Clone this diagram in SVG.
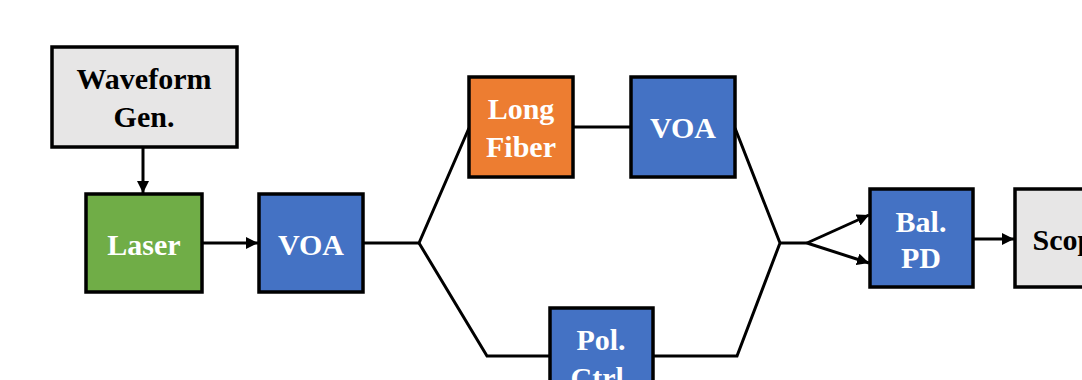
<svg xmlns="http://www.w3.org/2000/svg" width="1082" height="380" viewBox="0 0 1082 380">
<style>
.box{stroke:#000;stroke-width:3.5}
.gray{fill:#E7E6E6}
.green{fill:#70AD47}
.blue{fill:#4472C4}
.orange{fill:#ED7D31}
text{font-family:"Liberation Serif","Times New Roman",serif;font-weight:bold;font-size:30px;text-anchor:middle}
.w{fill:#fff}
.k{fill:#000}
.ln{fill:none;stroke:#000;stroke-width:3;stroke-linejoin:miter}
</style>
<defs>
<marker id="ah" viewBox="0 0 10 10" refX="10" refY="5" markerWidth="4" markerHeight="4" markerUnits="strokeWidth" orient="auto">
<path d="M0,0 L10,5 L0,10 z" fill="#000"/>
</marker>
</defs>
<rect width="1082" height="380" fill="#fff"/>
<g id="connectors">
<line class="ln" x1="143" y1="147" x2="143" y2="193" marker-end="url(#ah)"/>
<line class="ln" x1="202" y1="243" x2="258" y2="243" marker-end="url(#ah)"/>
<polyline class="ln" points="363,243 419,243 469,128"/>
<line class="ln" x1="573" y1="127" x2="631" y2="127"/>
<polyline class="ln" points="419,243 487,356 550,356"/>
<polyline class="ln" points="653,356 737,356 780,243 735,128"/>
<line class="ln" x1="780" y1="243" x2="807" y2="243"/>
<line class="ln" x1="807" y1="243" x2="869" y2="215" marker-end="url(#ah)"/>
<line class="ln" x1="807" y1="243" x2="869" y2="263" marker-end="url(#ah)"/>
<line class="ln" x1="973" y1="239" x2="1014" y2="239" marker-end="url(#ah)"/>
</g>
<g id="waveform">
<rect class="box gray" x="52" y="47" width="185" height="100"/>
<text class="k" x="144" y="89">Waveform</text>
<text class="k" x="144" y="127">Gen.</text>
</g>
<g id="laser">
<rect class="box green" x="86" y="194" width="116" height="98"/>
<text class="w" x="144" y="255">Laser</text>
</g>
<g id="voa1">
<rect class="box blue" x="259" y="194" width="104" height="98"/>
<text class="w" x="311" y="255">VOA</text>
</g>
<g id="longfiber">
<rect class="box orange" x="469" y="77" width="104" height="100"/>
<text class="w" x="521" y="119">Long</text>
<text class="w" x="521" y="157">Fiber</text>
</g>
<g id="voa2">
<rect class="box blue" x="631" y="77" width="104" height="100"/>
<text class="w" x="683" y="138">VOA</text>
</g>
<g id="polctrl">
<rect class="box blue" x="550" y="308" width="103" height="98"/>
<text class="w" x="601" y="350">Pol.</text>
<text class="w" x="601" y="388">Ctrl.</text>
</g>
<g id="balpd">
<rect class="box blue" x="870" y="189" width="103" height="98"/>
<text class="w" x="921" y="232">Bal.</text>
<text class="w" x="921" y="268">PD</text>
</g>
<g id="scope">
<rect class="box gray" x="1015" y="189" width="110" height="98"/>
<text class="k" x="1070" y="250">Scope</text>
</g>
</svg>
